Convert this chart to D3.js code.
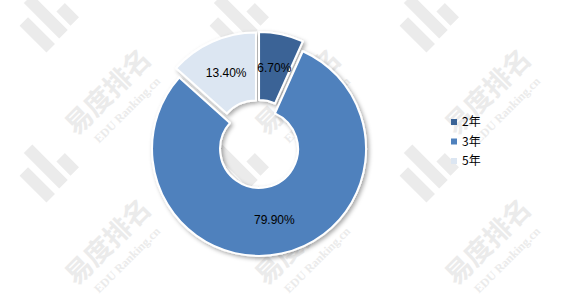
<!DOCTYPE html>
<meta charset="utf-8">
<style>
html, body {
  margin: 0;
  overflow: hidden;
  width: 100%;
  height: 100%;
  background: #fff;
}
svg text {
  font-family: "Liberation Sans", Arial, sans-serif;
}
</style>
<body>
<script src="https://cdn.jsdelivr.net/npm/d3@7"></script>
<script>
var categories = ["2年", "3年", "5年"],
    values = [6.7, 79.9, 13.4],
    labels = ["6.70%", "79.90%", "13.40%"],
    colors = ["#3a6396", "#4f81bd", "#dce6f2"];

var width = 566,
    height = 298,
    cx = 258,
    cy = 144,
    outerR = 107,
    innerR = 39,
    explode = 5;

var svg = d3.select("body").append("svg")
    .attr("width", width)
    .attr("height", height);

var defs = svg.append("defs");
defs.append("filter")
    .attr("id", "shadow")
    .attr("x", "-20%").attr("y", "-20%")
    .attr("width", "140%").attr("height", "140%")
  .append("feDropShadow")
    .attr("dx", 2).attr("dy", 2)
    .attr("stdDeviation", 2)
    .attr("flood-color", "#000")
    .attr("flood-opacity", 0.35);

// watermark tiles
var tiles = [[0, 0], [190, 0], [380, 0], [0, 150], [190, 150], [380, 150]];
var wm = svg.append("g").attr("fill", "#ebebeb");
tiles.forEach(function(t) {
  var logo = wm.append("g")
      .attr("transform", "translate(" + (t[0] + 50) + "," + (t[1] + 25) + ") rotate(45)");
  logo.append("rect").attr("x", -21).attr("y", 10).attr("width", 38).attr("height", 12);
  logo.append("rect").attr("x", -34).attr("y", -9).attr("width", 50).attr("height", 12);
  logo.append("rect").attr("x", -5).attr("y", -26).attr("width", 20).attr("height", 12);

  wm.append("text")
      .attr("transform", "translate(" + (t[0] + 108) + "," + (t[1] + 92) + ") rotate(-45)")
      .attr("text-anchor", "middle")
      .attr("dy", "0.35em")
      .style("font-family", "'Noto Sans CJK SC', sans-serif")
      .style("font-weight", "bold")
      .style("font-size", "27px")
      .text("易度排名");
  wm.append("text")
      .attr("transform", "translate(" + (t[0] + 127) + "," + (t[1] + 110) + ") rotate(-45)")
      .attr("text-anchor", "middle")
      .attr("dy", "0.35em")
      .style("font-family", "'Liberation Serif', serif")
      .style("font-weight", "bold")
      .style("font-size", "12px")
      .text("EDU Ranking.cn");
});

var pie = d3.pie().sort(null).value(function(d) { return d; });
var arcs = pie(values);

var arc = d3.arc().innerRadius(innerR).outerRadius(outerR);
var labelArc = d3.arc().innerRadius((innerR + outerR) / 2).outerRadius((innerR + outerR) / 2);

function offset(d) {
  var a = (d.startAngle + d.endAngle) / 2;
  return [cx + Math.sin(a) * explode, cy - Math.cos(a) * explode];
}

var slices = svg.append("g").attr("filter", "url(#shadow)");
slices.selectAll("path")
    .data(arcs)
  .enter().append("path")
    .attr("transform", function(d) { return "translate(" + offset(d) + ")"; })
    .attr("d", arc)
    .attr("fill", function(d, i) { return colors[i]; })
    .attr("stroke", "#fff")
    .attr("stroke-width", 2)
    .attr("stroke-linejoin", "round");

svg.append("g").selectAll("text")
    .data(arcs)
  .enter().append("text")
    .attr("transform", function(d) {
      var o = offset(d), c = labelArc.centroid(d);
      return "translate(" + (o[0] + c[0]) + "," + (o[1] + c[1]) + ")";
    })
    .attr("text-anchor", "middle")
    .attr("dy", "0.35em")
    .style("font-size", "12px")
    .attr("fill", "#000")
    .text(function(d, i) { return labels[i]; });

// legend
var legendY = d3.scalePoint().domain(categories).range([122, 161]);
var legend = svg.append("g").selectAll("g")
    .data(categories)
  .enter().append("g")
    .attr("transform", function(d) { return "translate(451," + legendY(d) + ")"; });
legend.append("rect")
    .attr("x", 0).attr("y", -3)
    .attr("width", 6).attr("height", 6)
    .attr("fill", function(d, i) { return colors[i]; });
legend.append("text")
    .attr("x", 11)
    .attr("dy", "0.35em")
    .style("font-size", "12px")
    .style("font-family", "'Noto Sans CJK SC', 'Liberation Sans', sans-serif")
    .attr("fill", "#000")
    .text(function(d) { return d; });
</script>
</body>
